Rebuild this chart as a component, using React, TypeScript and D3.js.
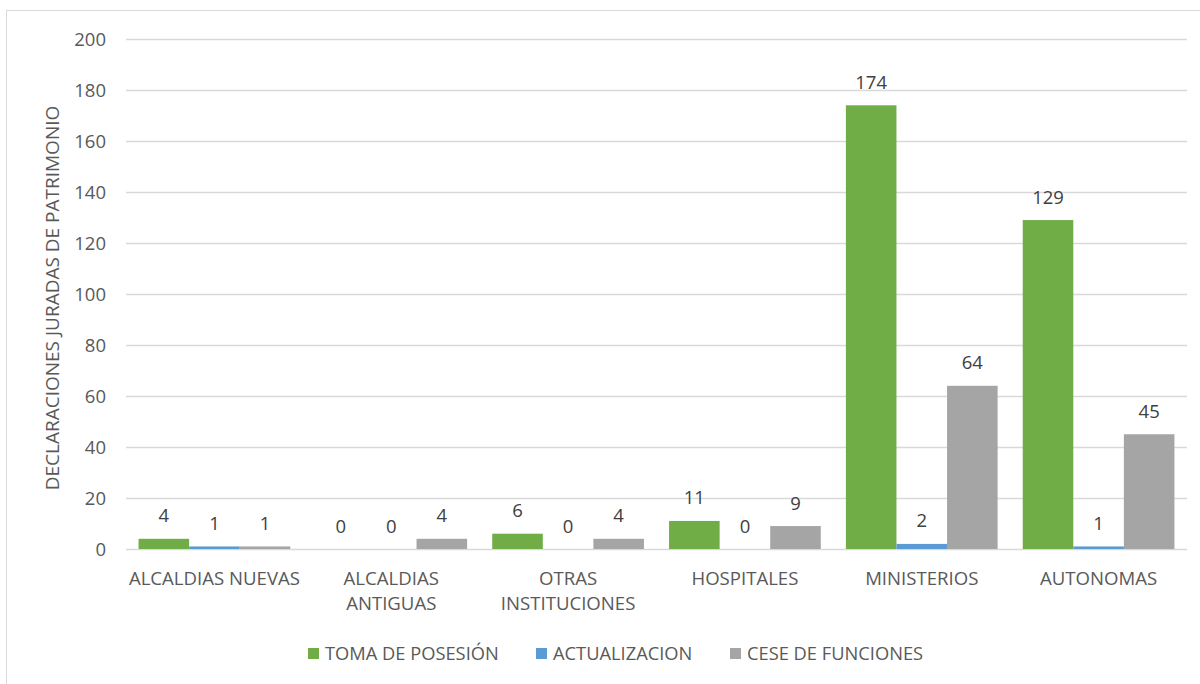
import React from "react";
import * as d3 from "d3";

const categories = ["ALCALDIAS NUEVAS", "ALCALDIAS ANTIGUAS", "OTRAS INSTITUCIONES", "HOSPITALES", "MINISTERIOS", "AUTONOMAS"];
const categoryLines = [["ALCALDIAS NUEVAS"], ["ALCALDIAS", "ANTIGUAS"], ["OTRAS", "INSTITUCIONES"], ["HOSPITALES"], ["MINISTERIOS"], ["AUTONOMAS"]];
const seriesNames = ["TOMA DE POSESIÓN", "ACTUALIZACION", "CESE DE FUNCIONES"];
const tomaDePosesion = [4, 0, 6, 11, 174, 129];
const actualizacion = [1, 0, 0, 0, 2, 1];
const ceseDeFunciones = [1, 4, 4, 9, 64, 45];
const yTicks = [0, 20, 40, 60, 80, 100, 120, 140, 160, 180, 200];
const colors = ["#70AD47", "#5B9BD5", "#A5A5A5"];
const yTitle = "DECLARACIONES JURADAS DE PATRIMONIO";

const W = 1200;
const H = 684;
const left = 126;
const right = 1187;
const top = 39;
const bottom = 549;
const font = "'Open Sans', sans-serif";
const textColor = "#595959";

export default function App() {
  const series = [tomaDePosesion, actualizacion, ceseDeFunciones];
  const x = d3.scaleBand<string>().domain(categories).range([left, right]).paddingInner(0).paddingOuter(0);
  const bw = x.bandwidth();
  const pad = bw * 0.071;
  const xs = d3.scaleBand<number>().domain([0, 1, 2]).range([pad, bw - pad]).padding(0);
  const y = d3.scaleLinear().domain([0, 200]).range([bottom, top]);

  const legendItems = [
    { x: 308, name: seriesNames[0], color: colors[0] },
    { x: 536, name: seriesNames[1], color: colors[1] },
    { x: 730, name: seriesNames[2], color: colors[2] },
  ];

  return (
    <svg width={W} height={H} style={{ position: "absolute", left: 0, top: 0, background: "#fff" }} fontFamily={font}>
      <rect x={6.5} y={10.5} width={1300} height={800} fill="#fff" stroke="#D9D9D9" strokeWidth={1} />
      {yTicks.map((t) => (
        <g key={t}>
          <line x1={left} x2={right} y1={Math.round(y(t)) + 0.5} y2={Math.round(y(t)) + 0.5} stroke="#D9D9D9" strokeWidth={1.3} />
          <text x={106} y={y(t)} dy="0.36em" textAnchor="end" fontSize={18.5} fill={textColor}>
            {t}
          </text>
        </g>
      ))}
      {categories.map((c, i) => (
        <g key={c}>
          {series.map((s, j) => {
            const bx = (x(c) as number) + (xs(j) as number);
            const v = s[i];
            return (
              <g key={j}>
                {v > 0 && (
                  <rect x={bx} y={y(v)} width={xs.bandwidth()} height={Math.max(y(0) - y(v), 0)} fill={colors[j]} />
                )}
                <text x={bx + xs.bandwidth() / 2} y={y(v) - 16.5} textAnchor="middle" fontSize={18.5} fill="#404040">
                  {v}
                </text>
              </g>
            );
          })}
          {categoryLines[i].map((ln, k) => (
            <text key={k} x={(x(c) as number) + bw / 2} y={578 + k * 25} dy="0.36em" textAnchor="middle" fontSize={18.6} fill={textColor}>
              {ln}
            </text>
          ))}
        </g>
      ))}
      <text transform={`translate(59,${(top + bottom) / 2 + 4}) rotate(-90)`} textAnchor="middle" fontSize={19} fill={textColor}>
        {yTitle}
      </text>
      {legendItems.map((it) => (
        <g key={it.name}>
          <rect x={it.x} y={648} width={11} height={11} fill={it.color} />
          <text x={it.x + 17} y={653.5} dy="0.36em" fontSize={18.3} fill={textColor}>
            {it.name}
          </text>
        </g>
      ))}
    </svg>
  );
}
